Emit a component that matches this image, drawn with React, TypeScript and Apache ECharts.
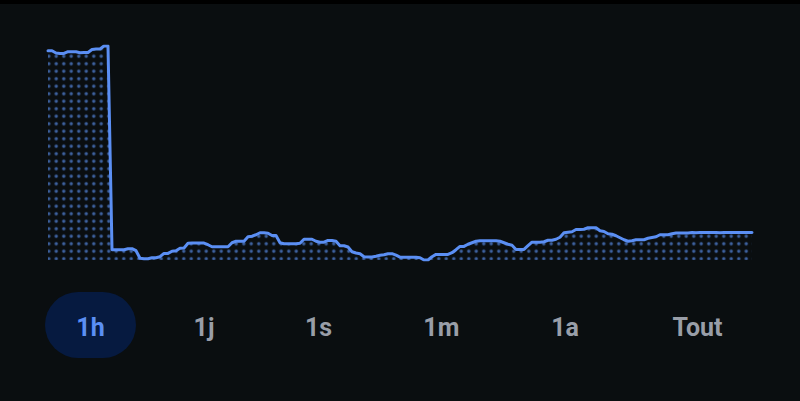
import React, { useEffect, useRef } from "react";
import * as echarts from "echarts";

// Price over the last hour (arbitrary units), one sample every ~20 s
const priceValues: number[] = [
  209.8, 209.8, 207.5, 207, 207, 208.8, 208.8, 208.8, 207.8, 208, 208, 211, 211.5, 211.5, 214.5, 214.5,
  10.5, 10.5, 10.5, 10.5, 11.5, 11.5, 9.5, 2, 1.5, 1.5, 2.5, 2.5, 3.5, 6.8, 6.8, 9, 9.5, 12, 12.2,
  17, 17.2, 17.2, 17.2, 17.2, 15.5, 13.5, 13.5, 13.5, 13.5, 13.5, 17.5, 19, 19, 19, 23.5, 24, 25.5,
  27.5, 27.5, 27, 24.7, 24.7, 17.5, 16.5, 16.5, 16.5, 16.5, 17, 21, 21, 21, 19, 18, 18, 19.8, 19.8,
  19, 14.5, 14.5, 13.2, 8.5, 7.2, 6.5, 3.5, 3.2, 3.2, 4, 5, 5.5, 6.5, 6.5, 5, 3, 3, 3, 3, 3, 2.5,
  0.2, 0.2, 3.5, 5.8, 5.8, 5.8, 5.8, 7.5, 10.5, 13.8, 13.8, 16, 17.5, 19, 19.5, 19.5, 19.5, 19.5,
  19.5, 19, 17.5, 16, 15, 10.8, 10.8, 10.8, 14.5, 18, 18, 18, 18.5, 20, 20, 21, 23, 27.5, 28, 28.5,
  30.7, 30.7, 31, 32.5, 32.5, 32.5, 29.5, 28.8, 26.5, 26, 24.5, 22.5, 20.5, 19, 19.5, 20.5, 20.5,
  20.5, 22, 22.8, 23.5, 25.5, 25.5, 25.5, 26.5, 27.2, 27.2, 27.2, 27.3, 27.7, 27.6, 27.7, 27.7,
  27.8, 27.7, 27.7, 27.6, 27.7, 27.7, 27.8, 27.7, 27.7, 27.7, 27.8, 27.7,
];
const timeIndex: string[] = priceValues.map((_, i) => String(i));

const rangeLabels: string[] = ["1h", "1j", "1s", "1m", "1a", "Tout"];
const rangeCenters: number[] = [90.5, 204, 318.5, 441.3, 565, 697.5];
const activeRange = "1h";

const LINE_BLUE = "#5b8ff4";
const BG = "#0a0e10";

function dotPatternUrl(): string {
  // draw the dot tile at 4x resolution on a canvas
  const k = 4;
  const c = document.createElement("canvas");
  c.width = 30;
  c.height = 30;
  const ctx = c.getContext("2d")!;
  ctx.fillStyle = "#4066a8";
  ctx.beginPath();
  ctx.arc(3.75 * k, 3.75 * k, 1.6 * k, 0, Math.PI * 2);
  ctx.fill();
  return c.toDataURL("image/png");
}

export default function App() {
  const ref = useRef<HTMLDivElement>(null);

  useEffect(() => {
    if (!ref.current) return;
    const chart = echarts.init(ref.current, null, { renderer: "svg" });

    const graphics: any[] = [
      { type: "rect", left: 0, top: 0, shape: { width: 800, height: 4 }, style: { fill: "#000" }, silent: true },
      {
        type: "rect",
        shape: { x: 45, y: 292, width: 91, height: 66, r: 33 },
        style: { fill: "#061a40" },
        silent: true,
      },
    ];
    rangeLabels.forEach((label, i) => {
      graphics.push({
        type: "text",
        x: rangeCenters[i],
        y: 327,
        style: {
          text: label,
          fill: label === activeRange ? LINE_BLUE : "#999ea8",
          font: "bold 25px Roboto, 'Noto Sans', sans-serif",
          textAlign: "center",
          textVerticalAlign: "middle",
        },
        silent: true,
      });
    });

    chart.setOption({
      animation: false,
      backgroundColor: BG,
      grid: { left: 48, right: 48, top: 46, bottom: 141, containLabel: false },
      xAxis: {
        type: "category",
        data: timeIndex,
        boundaryGap: false,
        show: false,
      },
      yAxis: {
        type: "value",
        min: "dataMin",
        max: "dataMax",
        show: false,
        splitLine: { show: false },
      },
      series: [
        {
          type: "line",
          data: priceValues,
          showSymbol: false,
          smooth: false,
          lineStyle: { color: LINE_BLUE, width: 3, cap: "round", join: "round" },
          itemStyle: { color: LINE_BLUE },
          areaStyle: {
            origin: "start",
            color: {
              image: dotPatternUrl(),
              repeat: "repeat",
              imageWidth: 7.5,
              imageHeight: 7.5,
              x: 50.25,
              y: 252.95,
            } as any,
            opacity: 1,
          },
        },
      ],
      graphic: graphics,
    });

    return () => chart.dispose();
  }, []);

  return (
    <div
      style={{ position: "fixed", left: 0, top: 0, width: 800, height: 401, background: BG }}
    >
      <div ref={ref} style={{ width: 800, height: 401 }} />
    </div>
  );
}
